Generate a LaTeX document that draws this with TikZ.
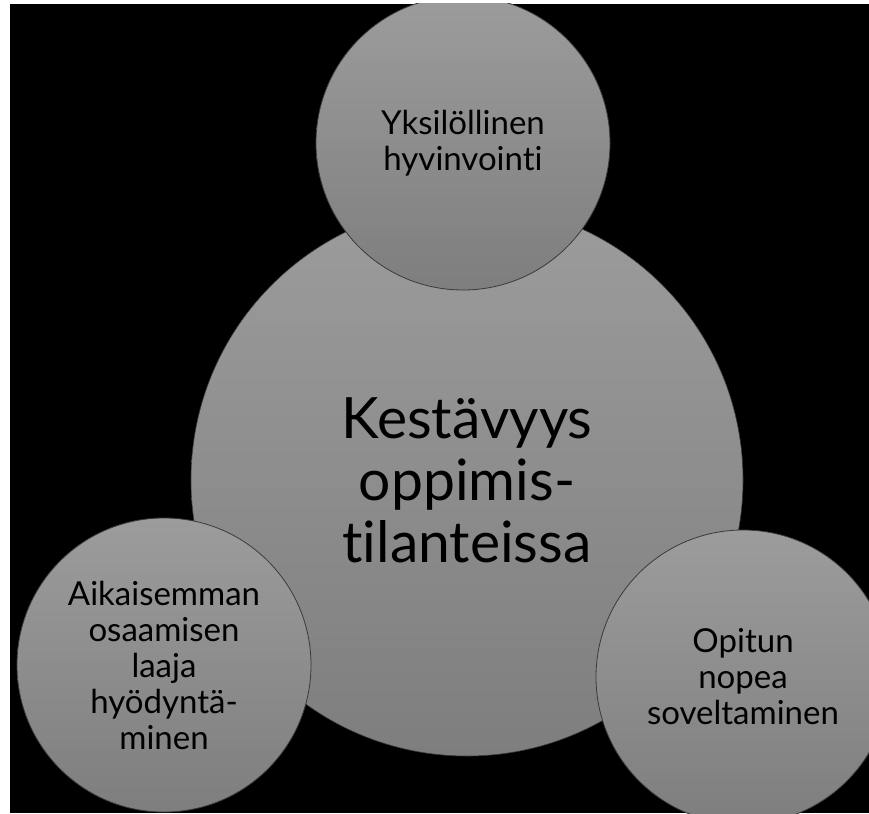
\documentclass[tikz,border=0pt]{standalone}
\usepackage{fontspec}
\setmainfont{Lato}[Ligatures=NoCommon]
\definecolor{circtop}{HTML}{9C9C9C}
\definecolor{circbot}{HTML}{7E7E7E}
\definecolor{circline}{HTML}{3A3A3A}
\tikzset{
  bigcirc/.style={circle, inner sep=0pt, minimum size=552pt, top color=circtop, bottom color=circbot, draw=circline, line width=0.6pt, align=center, font=\fontsize{57}{62}\selectfont},
  smallcirc/.style={circle, inner sep=0pt, minimum size=294pt, top color=circtop, bottom color=circbot, draw=circline, line width=0.8pt, align=center, font=\fontsize{33}{36}\selectfont}
}
\begin{document}
\begin{tikzpicture}[x=1pt,y=-1pt]
\useasboundingbox (0,0) rectangle (869,813);
\fill[white] (0,0) rectangle (869,813);
\fill[black] (10,4) rectangle (869,813);
\begin{scope}
\clip (10,4) rectangle (869,813);
\node[bigcirc] (nmain) at (467,480) {Kestävyys\\oppimis-\\tilanteissa};
\node[smallcirc] (ntop) at (463,143) {Yksilöllinen\\hyvinvointi};
\node[smallcirc] (nleft) at (164,665) {Aikaisemman\\osaamisen\\laaja\\hyödyntä-\\minen};
\node[smallcirc] (nright) at (743,677) {Opitun\\nopea\\soveltaminen};
\end{scope}
\end{tikzpicture}
\end{document}
